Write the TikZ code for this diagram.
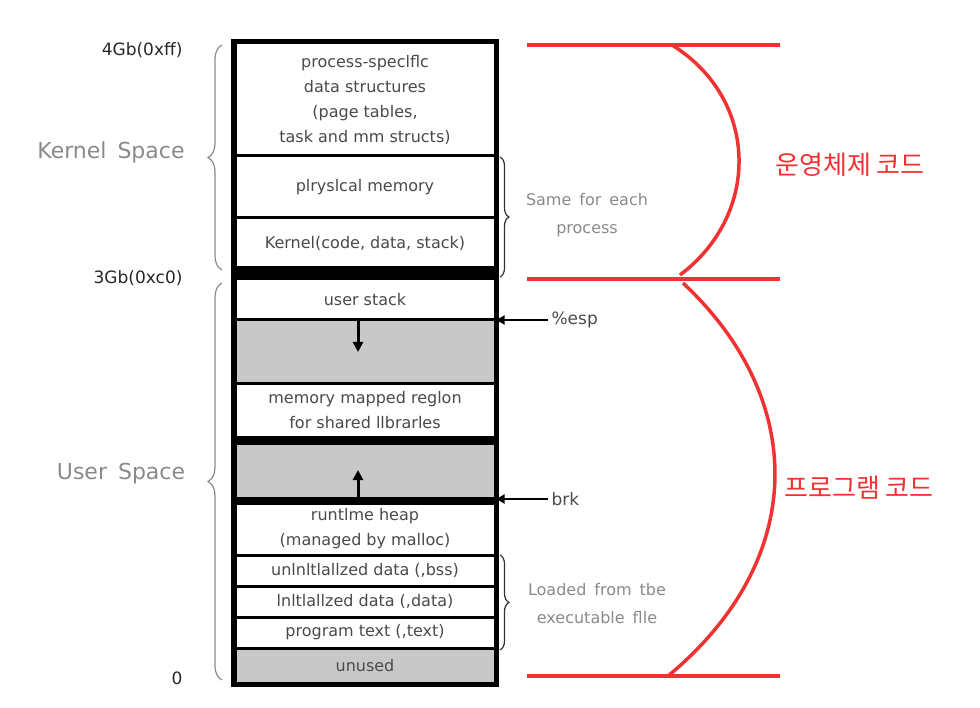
\documentclass[tikz,border=0pt]{standalone}
\usepackage{fontspec}
\setmainfont{DejaVu Sans}
\newfontfamily\krfont{Noto Sans CJK KR}
\usetikzlibrary{decorations.pathreplacing,arrows.meta}
\definecolor{boxtxt}{HTML}{4A4A4A}
\definecolor{lighttxt}{HTML}{8A8A8A}
\definecolor{grayfill}{HTML}{C8C8C8}
\definecolor{redline}{HTML}{F03232}
\tikzset{
  row/.style={draw=black, line width=3pt, minimum width=260pt, inner sep=0pt, fill=white,
              font=\fontsize{16}{25}\selectfont, text=boxtxt, align=center, anchor=center},
  grayrow/.style={row, fill=grayfill},
  band/.style={fill=black, draw=black, line width=0.5pt, minimum width=260pt, inner sep=0pt},
  addr/.style={font=\fontsize{17}{20}\selectfont, text=black!85, anchor=east},
  space/.style={font=\fontsize{22}{26}\selectfont, text=lighttxt},
  note/.style={font=\fontsize{16}{28}\selectfont, text=lighttxt, align=center},
  ptr/.style={font=\fontsize{17}{20}\selectfont, text=boxtxt, anchor=west},
  kr/.style={font=\krfont\fontsize{26}{30}\selectfont, text=redline},
  lbrace/.style={decorate, decoration={brace, amplitude=14pt, aspect=0.5}, draw=lighttxt, line width=1.2pt},
  rbrace/.style={decorate, decoration={brace, amplitude=9pt, aspect=0.5}, draw=black!80, line width=1.2pt},
  redl/.style={draw=redline, line width=4pt},
  arr/.style={-{Triangle[length=10pt,width=10pt]}, line width=3pt, draw=black}
}
\begin{document}
\begin{tikzpicture}[x=1pt,y=-1pt]
\useasboundingbox (0,0) rectangle (980,708);
% rows
\node[row, minimum height=113pt] (r1) at (365,99.5) {process-speclflc\\data structures\\(page tables,\\task and mm structs)};
\node[row, minimum height=62pt] (r2) at (365,187) {plryslcal memory};
\node[row, minimum height=50pt] (r3) at (365,243) {Kernel(code, data, stack)};
\node[band, minimum height=11pt] (b1) at (365,273.5) {};
\node[row, minimum height=41pt] (r4) at (365,299.5) {user stack};
\node[grayrow, minimum height=64pt] (r5) at (365,352) {};
\node[row, minimum height=53pt] (r6) at (365,410.5) {memory mapped reglon\\for shared llbrarles};
\node[band, minimum height=6pt] (b2) at (365,440) {};
\node[grayrow, minimum height=55pt] (r7) at (365,470.5) {};
\node[band, minimum height=6pt] (b3) at (365,500) {};
\node[row, minimum height=52pt] (r8) at (365,529) {runtlme heap\\(managed by malloc)};
\node[row, minimum height=31pt] (r9) at (365,570.5) {unlnltlallzed data (,bss)};
\node[row, minimum height=31pt] (r10) at (365,601.5) {lnltlallzed data (,data)};
\node[row, minimum height=31pt] (r11) at (365,632.5) {program text (,text)};
\node[grayrow, minimum height=35pt] (r12) at (365,665.5) {unused};
% outer frame
\draw[line width=4.5pt] (r1.north west) rectangle (r12.south east);
% inner arrows
\coordinate (dn) at (358,352);
\coordinate (up) at (358,470);
\draw[arr] (r5.north -| dn) -- (dn);
\draw[arr] (b3.north -| up) -- (up);
% address labels
\node[addr] (a4) at (186,50) {4Gb(0xff)};
\node[addr] (a3) at (186,278) {3Gb(0xc0)};
\node[addr] (a0) at (186,678) {0};
% left braces
\coordinate (kb1) at (222,270);
\coordinate (kb2) at (222,45);
\coordinate (ub1) at (222,680);
\coordinate (ub2) at (222,283);
\draw[lbrace] (kb1) -- (kb2);
\draw[lbrace] (ub1) -- (ub2);
\node[space] (ks) at (111,152) {Kernel\enspace Space};
\node[space] (us) at (121,474) {User\enspace Space};
% right braces
\coordinate (sb1) at (500,157);
\coordinate (sb2) at (500,277);
\coordinate (lb1) at (500,555);
\coordinate (lb2) at (500,650);
\draw[rbrace] (sb1) -- (sb2);
\draw[rbrace] (lb1) -- (lb2);
\node[note] (same) at (587,215) {Same\enspace for\enspace each\\process};
\node[note] (load) at (597,604) {Loaded\enspace from\enspace tbe\\executable\enspace flle};
% pointers
\node[ptr] (esp) at (548,320) {\%esp};
\node[ptr] (brk) at (548,499) {brk};
\draw[arr, line width=2pt, -{Triangle[length=8pt,width=9pt]}] (esp.west) -- (esp.west -| r4.east);
\draw[arr, line width=2pt, -{Triangle[length=8pt,width=9pt]}] (brk.west) -- (brk.west -| r8.east);
% red lines
\coordinate (t1) at (527,45);  \coordinate (t2) at (780,45);
\coordinate (m1) at (527,279); \coordinate (m2) at (780,279);
\coordinate (z1) at (527,676); \coordinate (z2) at (780,676);
\draw[redl] (t1) -- (t2);
\draw[redl] (m1) -- (m2);
\draw[redl] (z1) -- (z2);
\coordinate (c1s) at (672,45); \coordinate (c1e) at (680,275);
\coordinate (c2s) at (683,283); \coordinate (c2e) at (668,676);
\draw[draw=redline, line width=3.5pt] (c1s) .. controls (760,100) and (760,215) .. (c1e);
\draw[draw=redline, line width=3.5pt] (c2s) .. controls (808,400) and (808,560) .. (c2e);
\node[kr] (os) at (850,165) {운영체제 코드};
\node[kr] (pg) at (859,488) {프로그램 코드};
\end{tikzpicture}
\end{document}
